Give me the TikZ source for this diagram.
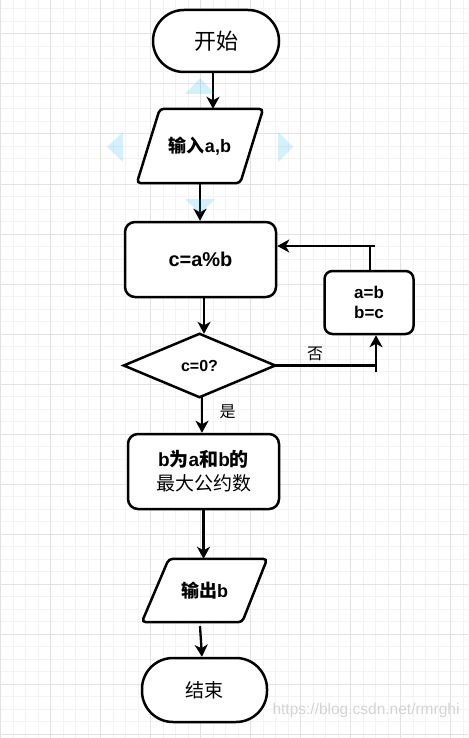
\documentclass[tikz,border=0pt]{standalone}
\usepackage{fontspec}
\setmainfont{Liberation Sans}
\newfontfamily\cjk{Noto Sans CJK SC}
\usetikzlibrary{arrows.meta,calc}
\pgfdeclarelayer{gridlayer}
\pgfdeclarelayer{shapelayer}
\pgfsetlayers{gridlayer,shapelayer,main}
\definecolor{gridminor}{RGB}{243,243,243}
\definecolor{gridmajor}{RGB}{226,226,226}
\definecolor{hoverblue}{RGB}{41,182,242}
\definecolor{wmark}{RGB}{212,212,212}
\tikzset{
  outline/.style={draw=black, line width=2.5pt, fill=white},
  box/.style={outline, rounded corners=10pt, minimum width=151pt, minimum height=75pt, align=center, inner sep=0pt},
  term/.style={outline, rounded corners=31pt, minimum width=125pt, minimum height=63pt, inner sep=0pt},
  anchorbox/.style={inner sep=0pt, align=center},
  conn/.style={line width=2.3pt},
  arr/.style={conn, -{Stealth[length=12pt,width=13pt,inset=3.5pt]}},
  lbl/.style={inner sep=0pt, font=\fontsize{16}{18}\selectfont},
  hover/.style={fill=hoverblue, fill opacity=0.2, draw=none}
}
\begin{document}
\begin{tikzpicture}[x=1pt,y=-1pt]
\useasboundingbox (0,0) rectangle (468,738);
\begin{pgfonlayer}{gridlayer}
  \fill[white] (0,0) rectangle (468,738);
  \foreach \gx in {0.5,13,...,468} \draw[gridminor, line width=1pt] (\gx,0) -- (\gx,738);
  \foreach \gy in {9,21.5,...,738} \draw[gridminor, line width=1pt] (0,\gy) -- (468,\gy);
  \foreach \gx in {0.5,50.5,...,468} \draw[gridmajor, line width=1pt] (\gx,0) -- (\gx,738);
  \foreach \gy in {34,84,...,738} \draw[gridmajor, line width=1pt] (0,\gy) -- (468,\gy);
\end{pgfonlayer}

% nodes
\node[term, minimum width=126pt, minimum height=62pt, font=\fontsize{22}{24}\selectfont] (start) at (216,41) {\cjk 开始};
\node[anchorbox, minimum width=126pt, minimum height=74pt, font=\fontsize{18}{20}\selectfont] (in) at (200,146) {{\cjk\bfseries 输入}\textbf{a,b}};
\node[box, font=\fontsize{20}{22}\selectfont\bfseries] (calc) at (200.5,259.5) {c=a\%b};
\node[anchorbox, minimum width=151pt, minimum height=63pt, font=\fontsize{16}{18}\selectfont\bfseries] (dia) at (199.5,365.5) {c=0?};
\node[box, rounded corners=8pt, minimum width=89pt, minimum height=63pt, font=\fontsize{17}{20}\selectfont\bfseries] (ab) at (369,302.5) {a=b\\b=c};
\node[box, font=\fontsize{19}{24}\selectfont] (res) at (203.5,471.5) {\textbf{b{\cjk 为}a{\cjk 和}b{\cjk 的}}\\{\cjk 最大公约数}};
\node[anchorbox, minimum width=125pt, minimum height=63pt, font=\fontsize{18}{20}\selectfont] (out) at (204.5,590.5) {{\cjk\bfseries 输出}\textbf{b}};
\node[term, minimum width=125pt, minimum height=64pt, font=\fontsize{19}{22}\selectfont] (end) at (204.5,690) {\cjk 结束};

% hand-drawn outlines for parallelograms and diamond
\begin{pgfonlayer}{shapelayer}
  \draw[outline, rounded corners=4pt] (in.south west) -- ($(in.north west)+(23,0)$) -- (in.north east) -- ($(in.south east)+(-23,0)$) -- cycle;
  \draw[outline, line join=miter] (dia.north) -- (dia.east) -- (dia.south) -- (dia.west) -- cycle;
  \draw[outline, rounded corners=4pt] (out.south west) -- ($(out.north west)+(27,0)$) -- (out.north east) -- ($(out.south east)+(-25,0)$) -- cycle;
\end{pgfonlayer}

% labels
\node[lbl] (no) at (315,354) {\cjk 否};
\node[lbl] (yes) at (227.5,412) {\cjk 是};
\node[inner sep=0pt, text=wmark, font=\fontsize{15.5}{18}\selectfont] (wm) at (366,710) {https://blog.csdn.net/rmrghi};

% connectors
\draw[arr] ([xshift=-3pt]start.south) -- ([xshift=-3pt]start.south |- in.north);
\draw[arr] (in.south) -- (in.south |- calc.north);
\draw[arr] ([xshift=3.5pt]calc.south) -- ([xshift=3.5pt]calc.south |- dia.north);
\draw[arr] ([xshift=2.5pt]dia.south) -- ([xshift=2.5pt]dia.south |- res.north);
\draw[arr] (res.south) -- (res.south |- out.north);
\draw[arr] ([xshift=-4.5pt,yshift=-4pt]out.south) -- ([xshift=-2.5pt]end.north);

\coordinate (nA) at (376,365.5);
\coordinate (nB) at (376,372);
\coordinate (tA) at (375,246);
\draw[conn] (dia.east) -- (nA);
\draw[arr] (nB) -- (nB |- ab.south);
\draw[conn] ([xshift=1pt]ab.north) -- ([xshift=1pt]ab.north |- tA);
\draw[arr] (tA) -- (tA -| calc.east);

% hover hints around the input shape
\path[hover] (200,78) -- (215,94) -- (185,94) -- cycle;
\path[hover] (107,147) -- (123,132) -- (123,162) -- cycle;
\path[hover] (293,147) -- (278,132) -- (278,162) -- cycle;
\path[hover] (185,199) -- (215,199) -- (200,214) -- cycle;
\end{tikzpicture}
\end{document}
